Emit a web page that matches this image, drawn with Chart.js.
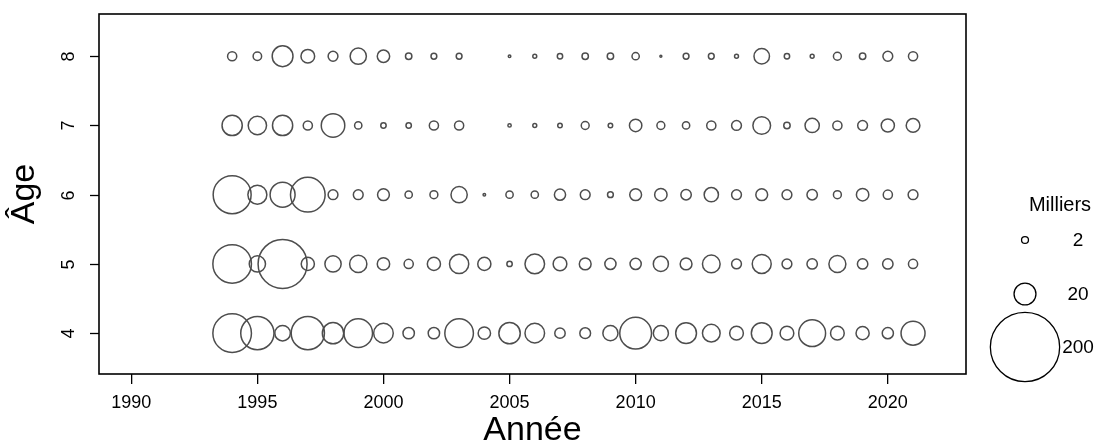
<!DOCTYPE html>
<html>
<head>
<meta charset="utf-8">
<script src="https://cdn.jsdelivr.net/npm/chart.js@4"></script>
<style>
  html, body { margin: 0; padding: 0; background: #fff; }
  #wrap { width: 1105px; height: 444px; position: relative; }
</style>
</head>
<body>
<div id="wrap"><canvas id="bubbleChart"></canvas></div>
<script>
// years and ages
const years = [1994, 1995, 1996, 1997, 1998, 1999, 2000, 2001, 2002, 2003, 2004,
  2005, 2006, 2007, 2008, 2009, 2010, 2011, 2012, 2013, 2014, 2015, 2016, 2017,
  2018, 2019, 2020, 2021];
const ages = [4, 5, 6, 7, 8];
const xTicks = [1990, 1995, 2000, 2005, 2010, 2015, 2020];
const yTicks = [4, 5, 6, 7, 8];

// abundance in thousands (milliers), one array per age
const age4 = [62, 46, 10, 46, 19, 34, 16, 5.4, 5.4, 34, 6.4,
  19, 16, 4.5, 4.8, 9.5, 42, 9.5, 18, 13, 7.8, 18, 7.8, 30, 7.8, 7.2, 5.2, 24];
const age5 = [62, 11, 100, 7.2, 11, 12.4, 6.4, 3.5, 7.2, 15.4, 7.2,
  1.2, 16, 7.8, 5.8, 5.2, 5.2, 9.5, 5.8, 13, 4, 15, 4, 4.5, 12, 4.5, 4.5, 3.5];
const age6 = [60, 15, 26, 50, 4, 4, 5.8, 2.2, 2.6, 11, 0.27,
  2.2, 2.2, 5.2, 4, 1.4, 5.8, 6.4, 4.5, 8.5, 4, 5.8, 4, 4.5, 2.6, 6.4, 3.5, 4];
const age7 = [17, 14, 17, 3.5, 23, 2.2, 1.2, 1.2, 3.5, 3.5, null,
  0.46, 0.64, 0.85, 2.6, 0.85, 6.4, 2.6, 2.2, 3.5, 4, 13, 1.7, 8.5, 3.5, 4, 7.2, 7.8];
const age8 = [3.5, 3, 18, 7.8, 4, 11, 6.4, 1.7, 1.4, 1.4, null,
  0.27, 0.64, 1.2, 1.7, 1.7, 2.2, 0.16, 1.4, 1.4, 0.64, 10, 1.2, 0.64, 2.6, 1.7, 4, 3.5];

const legendValues = [2, 20, 200];
const legendTitle = 'Milliers';

// circle radius proportional to sqrt of value
const K = 2.45;
const radiusOf = v => K * Math.sqrt(v);

const series = [age4, age5, age6, age7, age8];

const datasets = series.map((vals, i) => ({
  label: 'Âge ' + ages[i],
  data: years.map((yr, j) => vals[j] == null ? null : { x: yr, y: ages[i], r: radiusOf(vals[j]) })
    .filter(p => p !== null),
  borderColor: '#4d4d4d',
  backgroundColor: 'rgba(0,0,0,0)',
  borderWidth: 1.5,
  hoverBorderWidth: 1.5,
  clip: false
}));

const FONT = "'Liberation Sans', Arial, sans-serif";

// frame, rotated y tick labels and the size legend
const extras = {
  id: 'extras',
  afterDraw(chart) {
    const ctx = chart.ctx;
    const a = chart.chartArea;
    const ys = chart.scales.y;
    ctx.save();
    ctx.strokeStyle = '#000';
    ctx.lineWidth = 1.6;
    ctx.strokeRect(a.left, a.top, a.right - a.left, a.bottom - a.top);

    ctx.fillStyle = '#000';
    ctx.font = '18px ' + FONT;
    ctx.textAlign = 'center';
    ctx.textBaseline = 'middle';
    ctx.lineWidth = 1.3;
    yTicks.forEach(t => {
      const py = Math.round(ys.getPixelForValue(t)) + 0.5;
      ctx.beginPath();
      ctx.moveTo(a.left - 9, py);
      ctx.lineTo(a.left, py);
      ctx.stroke();
      ctx.save();
      ctx.translate(69, py);
      ctx.rotate(-Math.PI / 2);
      ctx.fillText(String(t), 0, 0);
      ctx.restore();
    });

    // legend
    ctx.font = '20px ' + FONT;
    ctx.fillText(legendTitle, 1060, 205);
    ctx.font = '19px ' + FONT;
    const ly = [240, 294, 347];
    ctx.lineWidth = 1.3;
    legendValues.forEach((v, i) => {
      ctx.beginPath();
      ctx.arc(1025, ly[i], radiusOf(v), 0, Math.PI * 2);
      ctx.stroke();
      ctx.fillText(String(v), 1078, ly[i] + 1);
    });
    ctx.restore();
  }
};

new Chart(document.getElementById('bubbleChart'), {
  type: 'bubble',
  data: { datasets },
  options: {
    responsive: true,
    maintainAspectRatio: false,
    animation: false,
    events: [],
    layout: { autoPadding: false, padding: { left: 0, right: 139, top: 14, bottom: 0 } },
    plugins: { legend: { display: false }, tooltip: { enabled: false } },
    scales: {
      x: {
        type: 'linear',
        min: 1988.72,
        max: 2023.1,
        afterBuildTicks: s => { s.ticks = xTicks.map(v => ({ value: v })); },
        afterFit: s => { s.height = 70; },
        grid: { drawOnChartArea: false, drawTicks: true, tickLength: 10, color: '#000', lineWidth: 1.3 },
        border: { display: false },
        ticks: { color: '#000', font: { family: FONT, size: 18 }, padding: 8, maxRotation: 0,
          callback: v => String(v) },
        title: { display: true, text: 'Année', color: '#000', font: { family: FONT, size: 34, lineHeight: 1 },
          padding: { top: 0, bottom: -4 } }
      },
      y: {
        type: 'linear',
        min: 3.41,
        max: 8.61,
        afterBuildTicks: s => { s.ticks = yTicks.map(v => ({ value: v })); },
        afterFit: s => { s.width = 99; },
        grid: { display: false },
        border: { display: false },
        ticks: { display: false },
        title: { display: true, text: 'Âge', color: '#000', font: { family: FONT, size: 34, lineHeight: 1 }, padding: { top: 8, bottom: 0 } }
      }
    }
  },
  plugins: [extras]
});
</script>
</body>
</html>
